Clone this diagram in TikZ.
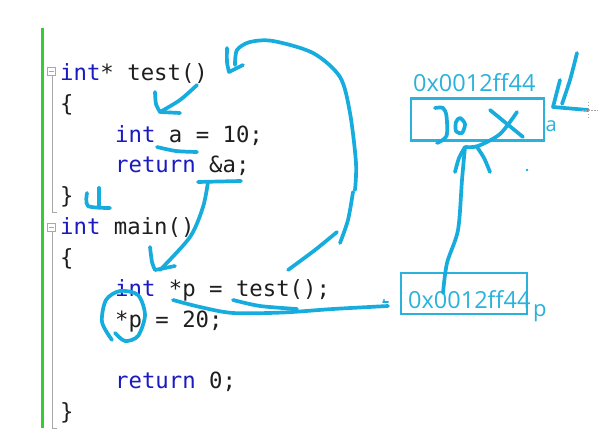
\documentclass[tikz,border=0pt]{standalone}
\usepackage{fontspec}
\setmonofont{DejaVu Sans Mono}
\newfontfamily\labfont{Open Sans}
\definecolor{inkc}{HTML}{16ACDE}
\definecolor{boxc}{HTML}{2AB2DC}
\definecolor{kwc}{HTML}{1A1AC0}
\definecolor{txtc}{HTML}{1E1E1E}
\definecolor{greenc}{HTML}{36CC36}
\definecolor{foldc}{HTML}{A8A8A8}
\newcommand\mycodefont{\fontsize{22.3}{26}\selectfont\ttfamily}
\newcommand\kw[1]{\textcolor{kwc}{#1}}
\begin{document}
\begin{tikzpicture}[x=1pt,y=-1pt,
  code/.style={anchor=base west, inner sep=0pt, font=\mycodefont, text=txtc},
  lab/.style={anchor=base west, inner sep=0pt, font=\labfont\fontsize{23.5}{26}\selectfont, text=boxc},
  membox/.style={draw=boxc, line width=2.2pt, inner sep=0pt},
  ink/.style={draw=inkc, line width=3.7pt, line cap=round, line join=round},
  foldbox/.style={draw=foldc, line width=0.8pt, fill=white, minimum size=8.5pt, inner sep=0pt}]
\useasboundingbox (0,0) rectangle (611,438);
\fill[white] (0,0) rectangle (611,438);

% editor margin
\draw[greenc, line width=3pt] (42,28) -- (42,428);
\draw[foldc, line width=0.8pt] (52,76) -- (52,212) -- (57,212);
\draw[foldc, line width=0.8pt] (52,232) -- (52,428) -- (57,428);
\node[foldbox] (f1) at (51.5,71.5) {};
\draw[foldc, line width=0.8pt] (49,71.5) -- (54,71.5);
\node[foldbox] (f2) at (51.5,227.5) {};
\draw[foldc, line width=0.8pt] (49,227.5) -- (54,227.5);

% code
\node[code] (l0) at (60,81) {\kw{int}* test()};
\node[code] (l1) at (60,112) {\{};
\node[code] (l2) at (115,142.5) {\kw{int} a = 10;};
\node[code] (l3) at (115,173) {\kw{return} \&a;};
\node[code] (l4) at (60,204) {\}};
\node[code] (l5) at (60,235) {\kw{int} main()};
\node[code] (l6) at (60,266) {\{};
\node[code] (l7) at (115,297) {\kw{int} *p = test();};
\node[code] (l8) at (115,328) {*p = 20;};
\node[code] (l10) at (115,389) {\kw{return} 0;};
\node[code] (l11) at (60,420) {\}};

% memory boxes
\node[membox, minimum width=133pt, minimum height=42pt] (boxa) at (477.8,119.5) {};
\node[lab] (addra) at (413,92) {0x0012ff44};
\node[lab, font=\labfont\fontsize{20}{22}\selectfont] (namea) at (545.5,132) {a};
\node[membox, minimum width=126pt, minimum height=41.3pt] (boxp) at (463.7,293.3) {};
\node[lab] (addrp) at (408,309) {0x0012ff44};
\node[lab, font=\labfont\fontsize{22}{24}\selectfont] (namep) at (533,317) {p};

% hand-drawn strokes
% big arc from test() call back to test definition
\draw[ink] plot[smooth] coordinates {(235,65) (237,50) (250,42) (273,41) (313,53) (340,77) (350,113) (356,163) (355,190)};
\draw[ink] plot[smooth] coordinates {(227,48) (227,62) (229,72)} -- (243,65);
\draw[ink] plot[smooth] coordinates {(353,192) (348,220) (340,243)};
\draw[ink] plot[smooth] coordinates {(288,270) (315,250) (337,232)};
% test() -> int a
\draw[ink] plot[smooth] coordinates {(197,85) (180,100) (160,112)};
\draw[ink] plot[smooth] coordinates {(155,92) (156,104) (160,112)} -- (180,113);
% underline a
\draw[ink] plot[smooth] coordinates {(157,147) (176,151) (197,152)};
% underline &a and arrow down
\draw[ink] (198,182) -- (241,181);
\draw[ink] plot[smooth] coordinates {(208,182) (203,207) (190,237) (160,270)};
\draw[ink] plot[smooth] coordinates {(150,247) (152,262) (155,270)} -- (175,266);
% mark at closing brace
\draw[ink] (99,188) -- (99,206);
\draw[ink] plot[smooth] coordinates {(87,193) (88,206) (110,208)};
% circle around *p
\draw[ink] plot[smooth] coordinates {(112,340) (102,322) (106,300) (120,291) (138,295) (145,315) (138,336) (125,341) (115,333)};
% underlines under *p = test();
\draw[ink] plot[smooth] coordinates {(173,300) (200,307) (233,313) (283,312.5) (333,309) (388,306)};
\draw[ink] plot[smooth] coordinates {(233,300) (260,306) (297,309)};
\fill[inkc] (384,300) circle (1.2pt);
\draw[ink, line width=2pt] (383,302) -- (388,302);
% arrow onto a
\draw[ink] plot[smooth] coordinates {(577,53) (570,80) (562,104)};
\draw[ink] (560,80) -- (553,107) -- (588,110);
% cursor mark
\draw[foldc, line width=0.6pt, dash pattern=on 1.5pt off 1.5pt] (588,102) -- (588,118);
\draw[foldc, line width=0.6pt, dash pattern=on 1.5pt off 1.5pt] (582,110) -- (598,110);
% scribbles in box a
\draw[ink] plot[smooth] coordinates {(435,108) (443,108) (446.5,116) (446.5,136) (437,143)};
\draw[ink] plot[smooth cycle] coordinates {(460,118) (465,124) (462,133) (456,131) (456,122)};
\draw[ink] (490,110) -- (523,137);
\draw[ink] plot[smooth] coordinates {(517,112) (500,134) (478,146) (466,147)};
% pointer from p up to a
\draw[ink] plot[smooth] coordinates {(443,293) (447,263) (458,230) (462,180) (465,147)};
\draw[ink] plot[smooth] coordinates {(455,172) (459,158) (465,147)};
\draw[ink] plot[smooth] coordinates {(490,172) (484,158) (477,147)};
\fill[inkc] (527,170) circle (1.3pt);
\end{tikzpicture}
\end{document}
